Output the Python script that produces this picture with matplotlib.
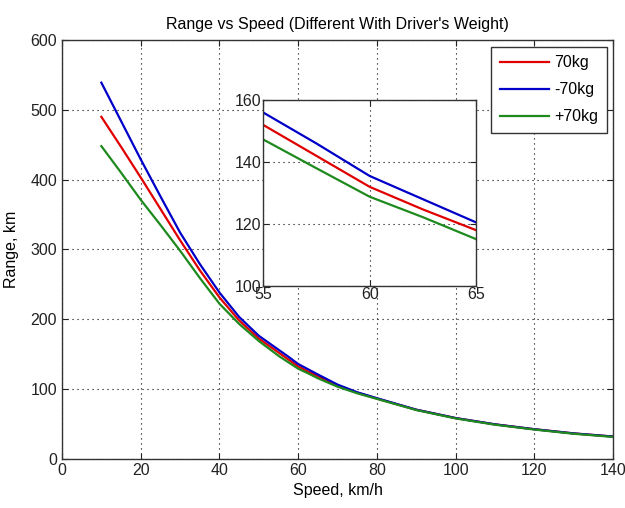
" Range vs speed chart for different driver weights "

# imports
import matplotlib
matplotlib.use("Agg")
import matplotlib.pyplot as plt

# data
speed = [10, 15, 20, 25, 30, 35, 40, 45, 50, 55, 57.5, 60, 62.5, 65,
         70, 75, 80, 90, 100, 110, 120, 130, 140]
range_70kg = [490, 447, 403, 358, 313, 270, 231, 198, 172, 152, 142, 132, 124.7, 118,
              105, 94.5, 86, 70, 58, 49, 42, 36, 31.5]
range_minus70kg = [539, 484, 429, 376, 324, 279, 238, 203, 176, 156, 146, 135.5, 128, 120.5,
                   106, 95, 86.5, 70, 58, 49, 42, 36, 31.5]
range_plus70kg = [448, 410, 371, 335, 298, 259, 222, 193, 168.5, 147.3, 138, 128.8, 122.2, 115.1,
                  103, 93.5, 85.5, 69.5, 57.5, 48.5, 41.5, 35.5, 31]
labels = ["70kg", "-70kg", "+70kg"]
colors = ["#e00000", "#0000c8", "#1e8a1e"]

plt.rcParams["font.family"] = ["Liberation Sans", "DejaVu Sans"]
FONT = 11.5


def style_axes(ax):
    ax.grid(True, color="black", linestyle=(0, (1, 3.5)), linewidth=0.8)
    ax.tick_params(direction="in", top=True, right=True, length=4, labelsize=FONT,
                   colors="#222222")
    for spine in ax.spines.values():
        spine.set_color("#333333")
        spine.set_linewidth(1.0)


fig = plt.figure(figsize=(6.25, 5.08), dpi=100)
ax = fig.add_axes([0.0992, 0.0974, 0.8818, 0.8236])
series = [range_70kg, range_minus70kg, range_plus70kg]
for values, label, color in zip(series, labels, colors):
    ax.plot(speed, values, color=color, linewidth=1.6, label=label)
ax.set_xlim(0, 140)
ax.set_ylim(0, 600)
ax.set_xticks(range(0, 141, 20))
ax.set_yticks(range(0, 601, 100))
style_axes(ax)
ax.set_xlabel("Speed, km/h", fontsize=FONT, labelpad=3)
ax.set_ylabel("Range, km", fontsize=FONT, labelpad=8)
ax.set_title("Range vs Speed (Different With Driver's Weight)", fontsize=FONT, pad=8)
leg = ax.legend(loc="upper right", fontsize=FONT, fancybox=False, framealpha=1,
                edgecolor="#333333", handlelength=3.1, borderaxespad=0.4,
                labelspacing=0.75, handletextpad=0.3, borderpad=0.55)
leg.get_frame().set_linewidth(1.0)

inset = fig.add_axes([0.421, 0.437, 0.341, 0.366])
for values, color in zip(series, colors):
    inset.plot(speed, values, color=color, linewidth=1.6)
inset.set_xlim(55, 65)
inset.set_ylim(100, 160)
inset.set_xticks([55, 60, 65])
inset.set_yticks([100, 120, 140, 160])
style_axes(inset)
inset.tick_params(pad=1)

fig.savefig("out.png", dpi=100)
